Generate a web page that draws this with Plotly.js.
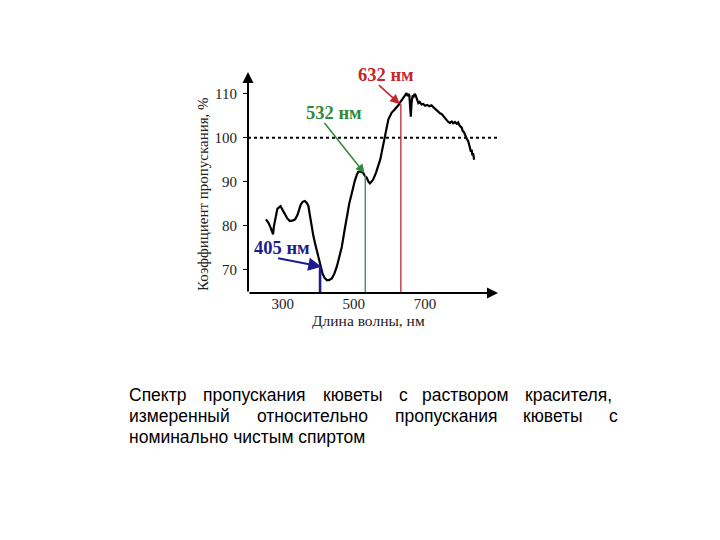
<!DOCTYPE html>
<html>
<head>
<meta charset="utf-8">
<script src="https://cdn.plot.ly/plotly-3.0.1.min.js"></script>
<style>html,body{margin:0;padding:0;background:#fff;}#chart{width:720px;height:540px;}</style>
</head>
<body>
<div id="chart"></div>
<script>
// ---- data ----
const wavelength = [253,260,266,270,273,275,280,285,288,294,300,306,313,320,327,335,342,350,356,362,367,372,376,381,386,391,397,403,408,412,418,425,431,438,445,452,459,466,473,480,487,494,499,503,508,512,519,526,531,536,541,545,550,555,562,569,574,578,583,587,592,597,602,606,612,616,620,625,630,634,639,643,648,651,654,656,658,660,662,665,668,671,674,678,681,685,690,695,700,706,712,718,723,728,733,737,742,747,751,756,761,765,770,775,779,784,789,793,797,800,803,806,809,812,815,818,821,824,827,829,831,833,835,837,838];
const transmission = [81.4,80.6,79.5,78.5,78.0,79.7,82.0,83.8,84.0,84.4,83.5,82.7,81.6,81.0,81.1,81.4,82.5,84.6,85.4,85.6,85.2,84.5,82.5,79.7,77.7,75.9,73.8,71.7,70.2,69.0,68.0,67.5,67.6,67.9,69.0,70.6,72.8,75.1,78.5,82.0,85.0,87.3,89.2,90.3,91.5,92.2,92.3,92.0,91.3,90.9,90.0,89.6,90.0,90.6,92.0,93.6,95.0,96.6,98.5,100.4,102.4,104.2,105.0,105.7,106.2,106.5,106.9,107.4,108.1,108.6,109.2,109.8,110.2,109.5,110.0,109.6,107.5,104.8,107.8,109.6,109.4,110.0,109.6,108.8,107.9,108.2,107.6,107.7,107.3,107.5,107.2,107.4,107.0,106.6,106.3,106.1,105.6,105.4,105.0,104.4,104.0,103.6,103.4,103.7,103.3,103.6,103.2,103.5,102.8,102.5,102.3,101.5,101.3,100.8,100.0,99.6,99.3,98.5,97.8,96.8,97.3,96.0,96.5,95.3,95.0];

const markerWavelength = [405, 532, 632];
const markerTop = [70.5, 91.5, 107.7];
const markerLabels = ["405 нм", "532 нм", "632 нм"];
const referenceLevel = 100;

const xTicks = [300, 500, 700];
const yTicks = [70, 80, 90, 100, 110];

const xTitle = "Длина волны, нм";
const yTitle = "Коэффициент пропускания, %";

const captionLine1 = ["Спектр", "пропускания", "кюветы", "с", "раствором", "красителя,"];
const captionLine2 = ["измеренный", "относительно", "пропускания", "кюветы", "с"];
const captionLine3 = "номинально чистым спиртом";

// ---- layout helpers ----
const X0 = 202.5, X1 = 905, Y0 = 64.6, Y1 = 115;
const L = 248, R = 498, T = 72, B = 293;
const px = x => (x - L) / (R - L);
const py = y => (B - y) / (B - T);

const markerColors = ["#1c1c8e", "#2f8a3a", "#c4262b"];
const markerWidths = [2.6, 1.3, 1.3];
const labelPos = [[282, 248], [334, 113], [386, 75]];
const arrowTail = [[283, 72.6], [414, 103.7], [566, 112.3]];
const arrowHead = [[409, 70.6], [530, 91.9], [629, 107.7]];
const arrowWidths = [2.2, 1.5, 1.6];

const traces = [];
traces.push({
  x: wavelength, y: transmission, type: "scatter", mode: "lines",
  line: {color: "#000", width: 2.2}, hoverinfo: "skip", showlegend: false
});
markerWavelength.forEach((w, i) => {
  traces.push({
    x: [w, w], y: [Y0, markerTop[i]], type: "scatter", mode: "lines",
    line: {color: markerColors[i], width: markerWidths[i]}, hoverinfo: "skip", showlegend: false
  });
});

const serif = "Liberation Serif, Times New Roman, serif";
const sans = "Liberation Sans, Arial, sans-serif";

const annotations = [];
// axes with arrows
annotations.push({x: X1, y: Y0, ax: X0, ay: Y0, xref: "x", yref: "y", axref: "x", ayref: "y",
  text: "", showarrow: true, arrowhead: 2, arrowsize: 1.1, arrowwidth: 2, arrowcolor: "#000"});
annotations.push({x: X0, y: Y1, ax: X0, ay: Y0, xref: "x", yref: "y", axref: "x", ayref: "y",
  text: "", showarrow: true, arrowhead: 2, arrowsize: 1.1, arrowwidth: 2, arrowcolor: "#000"});
// marker labels and arrows
markerLabels.forEach((t, i) => {
  annotations.push({x: px(labelPos[i][0]), y: py(labelPos[i][1]), xref: "paper", yref: "paper",
    text: "<b>" + t + "</b>", showarrow: false, xanchor: "center", yanchor: "middle",
    font: {family: serif, size: 18.5, color: markerColors[i]}});
  annotations.push({x: arrowHead[i][0], y: arrowHead[i][1], ax: arrowTail[i][0], ay: arrowTail[i][1],
    xref: "x", yref: "y", axref: "x", ayref: "y", text: "", showarrow: true,
    arrowhead: 2, arrowsize: 1.2, arrowwidth: arrowWidths[i], arrowcolor: markerColors[i]});
});
// axis titles
annotations.push({x: px(203), y: py(194), xref: "paper", yref: "paper", text: yTitle, textangle: -90,
  showarrow: false, xanchor: "center", yanchor: "middle", font: {family: serif, size: 15, color: "#222"}});
annotations.push({x: px(368), y: py(320), xref: "paper", yref: "paper", text: xTitle,
  showarrow: false, xanchor: "center", yanchor: "middle", font: {family: serif, size: 15.5, color: "#222"}});
// caption (justified by word positions)
const line1X = [127, 201, 321, 397, 420, 523];
const line2X = [127, 255, 393, 521, 607];
const capFont = {family: sans, size: 17.5, color: "#000"};
captionLine1.forEach((w, i) => annotations.push({x: px(line1X[i]), y: py(395), xref: "paper", yref: "paper",
  text: w, showarrow: false, xanchor: "left", yanchor: "middle", font: capFont}));
captionLine2.forEach((w, i) => annotations.push({x: px(line2X[i]), y: py(416), xref: "paper", yref: "paper",
  text: w, showarrow: false, xanchor: "left", yanchor: "middle", font: capFont}));
annotations.push({x: px(127), y: py(436.5), xref: "paper", yref: "paper",
  text: captionLine3, showarrow: false, xanchor: "left", yanchor: "middle", font: capFont});

const layout = {
  width: 720, height: 540,
  margin: {l: L, r: 720 - R, t: T, b: 540 - B, pad: 0},
  paper_bgcolor: "#fff", plot_bgcolor: "#fff",
  showlegend: false,
  xaxis: {range: [X0, X1], showgrid: false, zeroline: false, showline: false,
    tickvals: xTicks, ticks: "", ticklabelstandoff: 0,
    tickfont: {family: serif, size: 15, color: "#222"}},
  yaxis: {range: [Y0, Y1], showgrid: false, zeroline: false, showline: false,
    tickvals: yTicks, ticks: "outside", ticklen: 4, tickwidth: 1, tickcolor: "#000",
    ticklabelstandoff: 3,
    tickfont: {family: serif, size: 15, color: "#222"}},
  shapes: [{type: "line", xref: "x", yref: "y", x0: X0, x1: X1, y0: referenceLevel, y1: referenceLevel,
    line: {color: "#000", width: 2, dash: "dot"}, layer: "below"}],
  annotations: annotations
};

Plotly.newPlot("chart", traces, layout, {staticPlot: true, displayModeBar: false});
</script>
</body>
</html>
